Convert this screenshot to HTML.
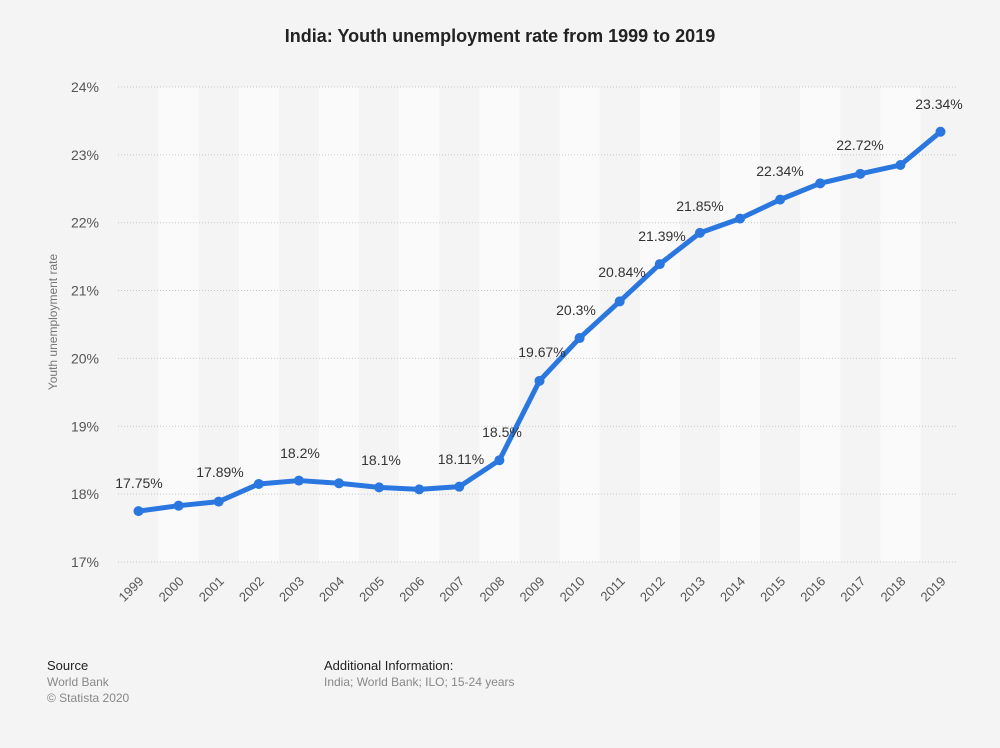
<!DOCTYPE html>
<html><head><meta charset="utf-8"><style>
body{margin:0;background:#f4f4f4;font-family:"Liberation Sans",Arial,sans-serif;}
</style></head><body>
<svg width="1000" height="743" xmlns="http://www.w3.org/2000/svg" font-family="Liberation Sans, Arial, sans-serif">
<rect width="1000" height="743" fill="#f4f4f4"/>
<text x="500" y="42" text-anchor="middle" font-size="18" font-weight="bold" fill="#222">India: Youth unemployment rate from 1999 to 2019</text>
<g id="bands"></g>
<g id="grid"></g>
<g id="ylab" font-size="14" fill="#555" text-anchor="end"></g>
<g id="xlab" font-size="13" fill="#555" text-anchor="end"></g>
<text transform="translate(57,322) rotate(-90)" text-anchor="middle" font-size="12" fill="#777">Youth unemployment rate</text>
<polyline id="line" fill="none" stroke="#2a77e0" stroke-width="5" stroke-linejoin="round" stroke-linecap="round"/>
<g id="dots" fill="#2a77e0"></g>
<g id="vlab" font-size="14" fill="#333" text-anchor="middle"></g>
<text x="47" y="670" font-size="13" fill="#222">Source</text>
<text x="47" y="686" font-size="12" fill="#888">World Bank</text>
<text x="47" y="702" font-size="12" fill="#888">© Statista 2020</text>
<text x="324" y="670" font-size="13" fill="#222">Additional Information:</text>
<text x="324" y="686" font-size="12" fill="#888">India; World Bank; ILO; 15-24 years</text>
</svg>
<script>
const ns="http://www.w3.org/2000/svg";
function el(p,t,a,txt){const e=document.createElementNS(ns,t);for(const k in a)e.setAttribute(k,a[k]);if(txt!==undefined)e.textContent=txt;document.getElementById(p).appendChild(e);return e;}
const vals=[17.75,17.83,17.89,18.15,18.2,18.16,18.1,18.07,18.11,18.5,19.67,20.3,20.84,21.39,21.85,22.06,22.34,22.58,22.72,22.85,23.34];
const X=i=>138.5+i*40.1, Y=v=>562-(v-17)*67.86;
for(let i=0;i<21;i++){ if(i%2==1) el("bands","rect",{x:X(i)-20,y:87,width:40.1,height:475,fill:"#fafafa"});}
for(let v=17;v<=24;v++){el("grid","line",{x1:118,x2:958,y1:Y(v),y2:Y(v),stroke:"#c8c8c8","stroke-dasharray":"1,2"});
 el("ylab","text",{x:99,y:Y(v)+5},v+"%");}
let pts=[];
for(let i=0;i<21;i++){pts.push(X(i)+","+Y(vals[i]));
 el("dots","circle",{cx:X(i),cy:Y(vals[i]),r:5});
 el("xlab","text",{x:X(i)+6,y:582,transform:`rotate(-45 ${X(i)+6} 582)`},String(1999+i));}
document.getElementById("line").setAttribute("points",pts.join(" "));
const L=[["17.75%",139,488],["17.89%",220,477],["18.2%",300,458],["18.1%",381,465],["18.11%",461,464],["18.5%",502,437],["19.67%",542,357],["20.3%",576,315],["20.84%",622,277],["21.39%",662,241],["21.85%",700,211],["22.34%",780,176],["22.72%",860,150],["23.34%",939,109]];
L.forEach(l=>el("vlab","text",{x:l[1],y:l[2]},l[0]));
</script>
</body></html>
